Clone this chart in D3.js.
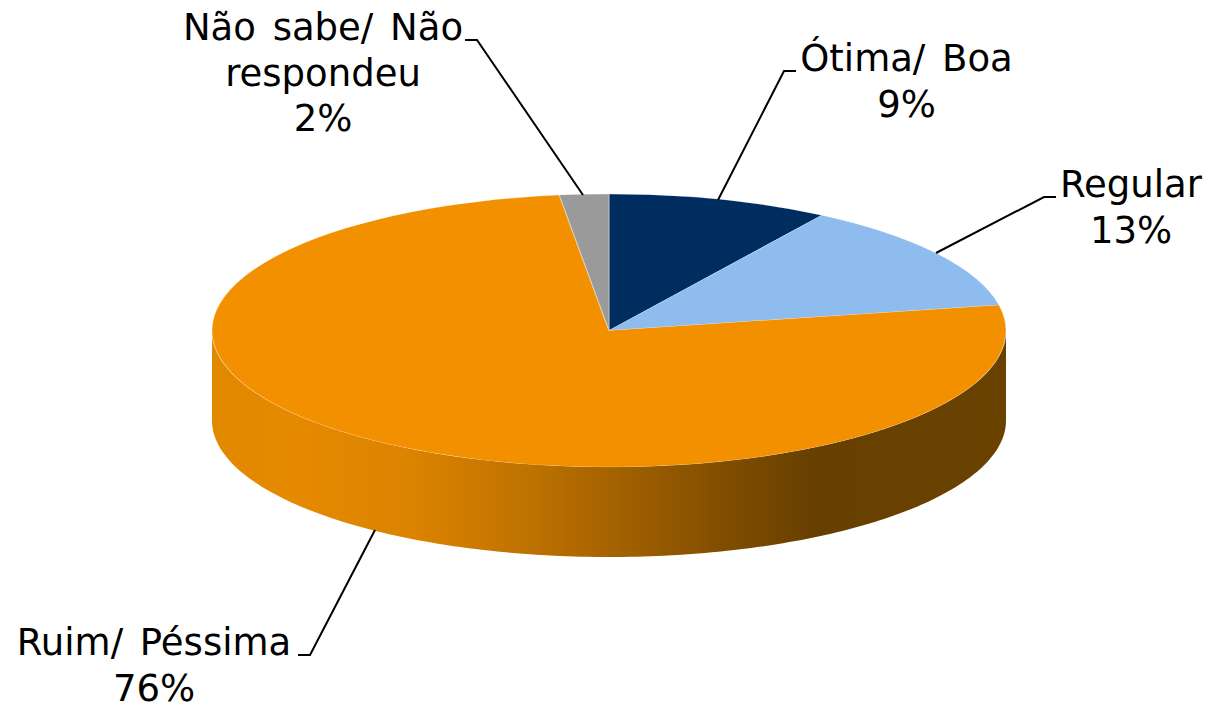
<!DOCTYPE html>
<html><head><meta charset="utf-8">
<script src="https://cdn.jsdelivr.net/npm/d3@7"></script>
<style>html,body{margin:0;padding:0;background:#fff}svg{display:block}
text{font-family:"DejaVu Sans",Verdana,sans-serif;font-size:37px;word-spacing:5px;fill:#000;text-anchor:middle}</style>
</head><body><svg id="c" width="1209" height="704"></svg>
<script>
const categories=["Ótima/ Boa","Regular","Ruim/ Péssima","Não sabe/ Não respondeu"];
const values=[9,13,76,2];
const colors=["#002D5F","#8FBCEE","#F39000","#9A9A9A"];
const labelLines=[["Ótima/ Boa","9%"],["Regular","13%"],["Ruim/ Péssima","76%"],["Não sabe/ Não","respondeu","2%"]];
const labelPos=[[906.5,71],[1131,197],[154,655],[323,40]];
const leaders=[[[718,200],[784,71],[796,71]],[[936,253],[1044,197],[1056,197]],[[375,530],[310,655],[298,655]],[[583,195],[477,40],[465,40]]];
const wallStops=[[0,"#E08800"],[.1,"#E58A00"],[.25,"#DC8300"],[.4,"#BE7200"],[.5,"#A66300"],[.65,"#7F4D00"],[.76,"#673F00"],[1,"#6A4200"]];

const cx=609,cy=330.5,rx=397,ry=136.5,depth=90;
const svg=d3.select("#c");
const defs=svg.append("defs");
const g=defs.append("linearGradient").attr("id","wall").attr("gradientUnits","userSpaceOnUse")
 .attr("x1",cx-rx).attr("x2",cx+rx).attr("y1",0).attr("y2",0);
g.selectAll("stop").data(wallStops).join("stop").attr("offset",d=>d[0]).attr("stop-color",d=>d[1]);

const pie=d3.pie().sort(null).value(d=>d);
const arcs=pie(values);
const sx=d3.scaleLinear().domain([-1,1]).range([cx-rx,cx+rx]);
const sy=d3.scaleLinear().domain([-1,1]).range([cy-ry,cy+ry]);

// side wall: lower half of ellipse, extruded
const th=d3.range(90,270.5,1).map(d=>d*Math.PI/180);
const upperEdge=th.map(t=>[sx(Math.sin(t)),sy(-Math.cos(t))]);
const lowerEdge=th.map(t=>[sx(Math.sin(t)),sy(-Math.cos(t))+depth]).reverse();
svg.append("path").attr("d",d3.line()(upperEdge.concat(lowerEdge))+"Z").attr("fill","url(#wall)");

// top face
const arc=d3.arc().innerRadius(0).outerRadius(rx);
svg.append("g").attr("transform",`translate(${cx},${cy}) scale(1,${ry/rx})`)
 .selectAll("path").data(arcs).join("path")
 .attr("d",arc).attr("fill",(d,i)=>colors[i])
 .attr("stroke","#fff").attr("stroke-opacity",.35).attr("stroke-width",1.2);

// leaders
svg.append("g").selectAll("path").data(leaders).join("path")
 .attr("d",d=>d3.line()(d)).attr("fill","none").attr("stroke","#000").attr("stroke-width",2);

// labels
const labels=svg.append("g").selectAll("text").data(labelLines).join("text")
 .attr("x",(d,i)=>labelPos[i][0]).attr("y",(d,i)=>labelPos[i][1]);
labels.selectAll("tspan").data(d=>d).join("tspan")
 .attr("x",function(){return this.parentNode.getAttribute("x")})
 .attr("dy",(d,i)=>i?45.5:0).text(d=>d);
</script></body></html>
